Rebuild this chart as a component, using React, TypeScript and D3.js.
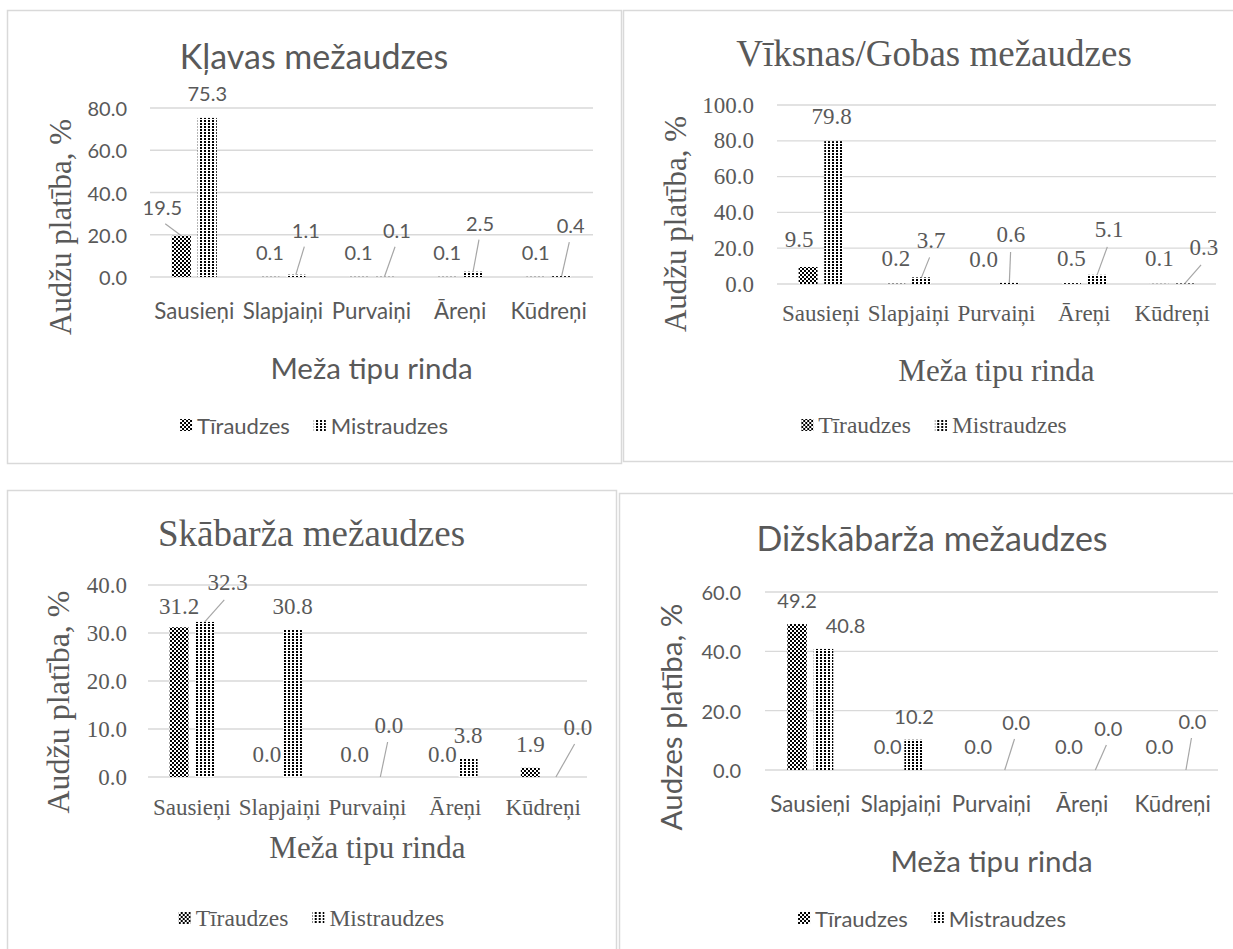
import React, { useEffect, useRef } from "react";
import * as d3 from "d3";

// ---------- DATA ----------
const categories = ["Sausieņi", "Slapjaiņi", "Purvaiņi", "Āreņi", "Kūdreņi"];
const seriesNames = ["Tīraudzes", "Mistraudzes"];

const klavasTir = [19.5, 0.1, 0.1, 0.1, 0.1];
const klavasMist = [75.3, 1.1, 0.1, 2.5, 0.4];
const klavasTicks = [0, 20, 40, 60, 80];

const viksnasTir = [9.5, 0.2, 0.0, 0.5, 0.1];
const viksnasMist = [79.8, 3.7, 0.6, 5.1, 0.3];
const viksnasTicks = [0, 20, 40, 60, 80, 100];

const skabarzaTir = [31.2, 0.0, 0.0, 0.0, 1.9];
const skabarzaMist = [32.3, 30.8, 0.0, 3.8, 0.0];
const skabarzaTicks = [0, 10, 20, 30, 40];

const dizTir = [49.2, 0.0, 0.0, 0.0, 0.0];
const dizMist = [40.8, 10.2, 0.0, 0.0, 0.0];
const dizTicks = [0, 20, 40, 60];

const xAxisTitle = "Meža tipu rinda";

// ---------- LAYOUT / STYLE ----------
const SANS = "Lato, 'Open Sans', sans-serif";
const SERIF = "'Liberation Serif', 'Times New Roman', serif";
const TEXT = "#595959";
const GRID = "#d9d9d9";
const BORDER = "#d9d9d9";
const LEADER = "#a6a6a6";

type Off = [number, number, boolean];

const sansSizes = { title: 34, tick: 20, cat: 22.3, axis: 29.5, legend: 22, label: 20, yTitle: 28.5 };
const serifSizes = { title: 37, tick: 23, cat: 23, axis: 31, legend: 23.5, label: 23, yTitle: 31 };

const panels = [
  {
    title: "Kļavas mežaudzes",
    yTitle: "Audžu platība, %",
    tir: klavasTir, mist: klavasMist, ticks: klavasTicks,
    box: [7, 10, 621, 463],
    plot: { x0: 150, x1: 593, yB: 277, yT: 108 },
    font: SANS, yFont: SERIF, sz: sansSizes, ySz: 31,
    titleY: 55, yTitleX: 60, yTitleY: 227, tickX: 127, catY: 310, axisY: 367, legendY: 425,
    labelGap: 25,
    tirOff: [[-19, -4, true], [0, 0, false], [0, 0, false], [0, 0, false], [0, 0, false]] as Off[],
    mistOff: [[0, 0, false], [10, -20, true], [12.5, -22, true], [7, -24, true], [9, -26, true]] as Off[],
  },
  {
    title: "Vīksnas/Gobas mežaudzes",
    yTitle: "Audžu platība, %",
    tir: viksnasTir, mist: viksnasMist, ticks: viksnasTicks,
    box: [623, 10, 1245, 461],
    plot: { x0: 777, x1: 1216, yB: 284, yT: 105 },
    font: SERIF, yFont: SERIF, sz: serifSizes, ySz: 31,
    titleY: 53, yTitleX: 675, yTitleY: 224, tickX: 754, catY: 313, axisY: 370, legendY: 425,
    labelGap: 25,
    tirOff: [[-9, -2, false], [0, 0, false], [0, 0, false], [0, 0, false], [0, 0, false]] as Off[],
    mistOff: [[-2, 0, false], [9.5, -12, true], [1.5, -23, true], [12, -20, true], [19, -10.5, true]] as Off[],
  },
  {
    title: "Skābarža mežaudzes",
    yTitle: "Audžu platība, %",
    tir: skabarzaTir, mist: skabarzaMist, ticks: skabarzaTicks,
    box: [7, 490, 616, 960],
    plot: { x0: 148, x1: 587, yB: 777, yT: 585 },
    font: SERIF, yFont: SERIF, sz: serifSizes, ySz: 32,
    titleY: 533, yTitleX: 58, yTitleY: 702, tickX: 127, catY: 807, axisY: 847, legendY: 918,
    labelGap: 23,
    tirOff: [[0, 2, false], [0, 0, false], [0, 0, false], [0, 0, false], [0, 0, false]] as Off[],
    mistOff: [[23, -16, true], [0, 0, false], [8.6, -29, true], [0, 0, false], [22, -27, true]] as Off[],
  },
  {
    title: "Dižskābarža mežaudzes",
    yTitle: "Audzes platība, %",
    tir: dizTir, mist: dizMist, ticks: dizTicks,
    box: [619, 493, 1245, 960],
    plot: { x0: 765, x1: 1218, yB: 770, yT: 592 },
    font: SANS, yFont: SANS, sz: sansSizes, ySz: 29.5,
    titleY: 537, yTitleX: 670, yTitleY: 717, tickX: 741, catY: 803, axisY: 860, legendY: 918,
    labelGap: 24,
    tirOff: [[0, 0, false], [0, 0, false], [0, 0, false], [0, 0, false], [0, 0, false]] as Off[],
    mistOff: [[22, 0, false], [0, 0, false], [11.5, -24, true], [13, -18, true], [6.5, -25, true]] as Off[],
  },
];

export default function App() {
  const ref = useRef<SVGSVGElement | null>(null);

  useEffect(() => {
    const svg = d3.select(ref.current);
    svg.selectAll("*").remove();

    const defs = svg.append("defs");
    // Checkerboard pattern (Tīraudzes)
    const p1 = defs.append("pattern").attr("id", "patTir").attr("patternUnits", "userSpaceOnUse")
      .attr("width", 4).attr("height", 4);
    p1.append("rect").attr("width", 4).attr("height", 4).attr("fill", "#000");
    p1.append("rect").attr("x", 0).attr("y", 0).attr("width", 2).attr("height", 2).attr("fill", "#fff");
    p1.append("rect").attr("x", 2).attr("y", 2).attr("width", 2).attr("height", 2).attr("fill", "#fff");
    // Dotted pattern (Mistraudzes)
    const p2 = defs.append("pattern").attr("id", "patMist").attr("patternUnits", "userSpaceOnUse")
      .attr("width", 4).attr("height", 3);
    p2.append("rect").attr("width", 4).attr("height", 3).attr("fill", "#fff");
    p2.append("rect").attr("x", 0).attr("y", 0).attr("width", 2).attr("height", 2).attr("fill", "#000");

    const fills = ["url(#patTir)", "url(#patMist)"];
    const fmt = d3.format(".1f");

    panels.forEach((p) => {
      const g = svg.append("g");
      const [bx0, by0, bx1, by1] = p.box;
      g.append("rect").attr("x", bx0 + 0.5).attr("y", by0 + 0.5)
        .attr("width", bx1 - bx0).attr("height", by1 - by0)
        .attr("fill", "#fff").attr("stroke", BORDER).attr("stroke-width", 1.5);

      const x = d3.scaleBand<string>().domain(categories).range([p.plot.x0, p.plot.x1]);
      const yMax = p.ticks[p.ticks.length - 1];
      const y = d3.scaleLinear().domain([0, yMax]).range([p.plot.yB, p.plot.yT]);
      const bw = x.bandwidth();
      const barW = bw * 0.215;
      const off = bw * 0.146;

      // gridlines
      g.selectAll(".grid").data(p.ticks).enter().append("line")
        .attr("x1", p.plot.x0).attr("x2", p.plot.x1)
        .attr("y1", (d) => y(d)).attr("y2", (d) => y(d))
        .attr("stroke", GRID).attr("stroke-width", 1.3);

      // tick labels
      g.selectAll(".tick").data(p.ticks).enter().append("text")
        .attr("x", p.tickX).attr("y", (d) => y(d))
        .attr("text-anchor", "end").attr("dominant-baseline", "central")
        .attr("font-family", p.font).attr("font-size", p.sz.tick).attr("fill", TEXT)
        .text((d) => fmt(d));

      const series = [p.tir, p.mist];
      const offs = [p.tirOff, p.mistOff];
      series.forEach((vals, si) => {
        vals.forEach((v, i) => {
          const c = (x(categories[i]) as number) + bw / 2 + (si === 0 ? -off : off);
          const top = y(v);
          if (v > 0) {
            g.append("rect").attr("x", c - barW / 2).attr("y", top)
              .attr("width", barW).attr("height", y(0) - top).attr("fill", fills[si]);
          }
          const [dx, dy, leader] = offs[si][i];
          const lx = c + dx;
          const ly = top - p.labelGap + dy;
          if (leader) {
            g.append("line").attr("x1", lx - 0.15 * dx).attr("y1", ly + 17)
              .attr("x2", c).attr("y2", top)
              .attr("stroke", LEADER).attr("stroke-width", 1.2);
          }
          g.append("text").attr("x", lx).attr("y", ly)
            .attr("text-anchor", "middle").attr("dominant-baseline", "central")
            .attr("font-family", p.font).attr("font-size", p.sz.label).attr("fill", TEXT)
            .text(fmt(v));
        });
      });

      // category labels
      g.selectAll(".cat").data(categories).enter().append("text")
        .attr("x", (d) => (x(d) as number) + bw / 2).attr("y", p.catY)
        .attr("text-anchor", "middle").attr("dominant-baseline", "central")
        .attr("font-family", p.font).attr("font-size", p.sz.cat).attr("fill", TEXT)
        .text((d) => d);

      const plotCx = (p.plot.x0 + p.plot.x1) / 2;
      const panelCx = (bx0 + bx1) / 2;

      // x axis title
      g.append("text").attr("x", plotCx).attr("y", p.axisY)
        .attr("text-anchor", "middle").attr("dominant-baseline", "central")
        .attr("font-family", p.font).attr("font-size", p.sz.axis).attr("fill", TEXT)
        .text(xAxisTitle);

      // y axis title
      g.append("text")
        .attr("transform", `translate(${p.yTitleX},${p.yTitleY}) rotate(-90)`)
        .attr("text-anchor", "middle").attr("dominant-baseline", "central")
        .attr("font-family", p.yFont).attr("font-size", p.ySz).attr("fill", TEXT)
        .text(p.yTitle);

      // chart title
      g.append("text").attr("x", panelCx).attr("y", p.titleY)
        .attr("text-anchor", "middle").attr("dominant-baseline", "central")
        .attr("font-family", p.font).attr("font-size", p.sz.title).attr("fill", TEXT)
        .text(p.title);

      // legend
      const lg = g.append("g");
      let cx = 0;
      seriesNames.forEach((name, si) => {
        lg.append("rect").attr("x", cx).attr("y", p.legendY - 6).attr("width", 12).attr("height", 12)
          .attr("fill", fills[si]);
        const t = lg.append("text").attr("x", cx + 17).attr("y", p.legendY)
          .attr("dominant-baseline", "central")
          .attr("font-family", p.font).attr("font-size", p.sz.legend).attr("fill", TEXT)
          .text(name);
        const w = (t.node() as SVGTextElement).getComputedTextLength();
        cx += 17 + w + 24;
      });
      const totalW = cx - 24;
      lg.attr("transform", `translate(${panelCx - totalW / 2},0)`);
    });
  }, []);

  return (
    <div style={{ position: "absolute", left: 0, top: 0 }}>
      <svg ref={ref} width={1233} height={949} style={{ display: "block", background: "#fff" }} />
    </div>
  );
}
